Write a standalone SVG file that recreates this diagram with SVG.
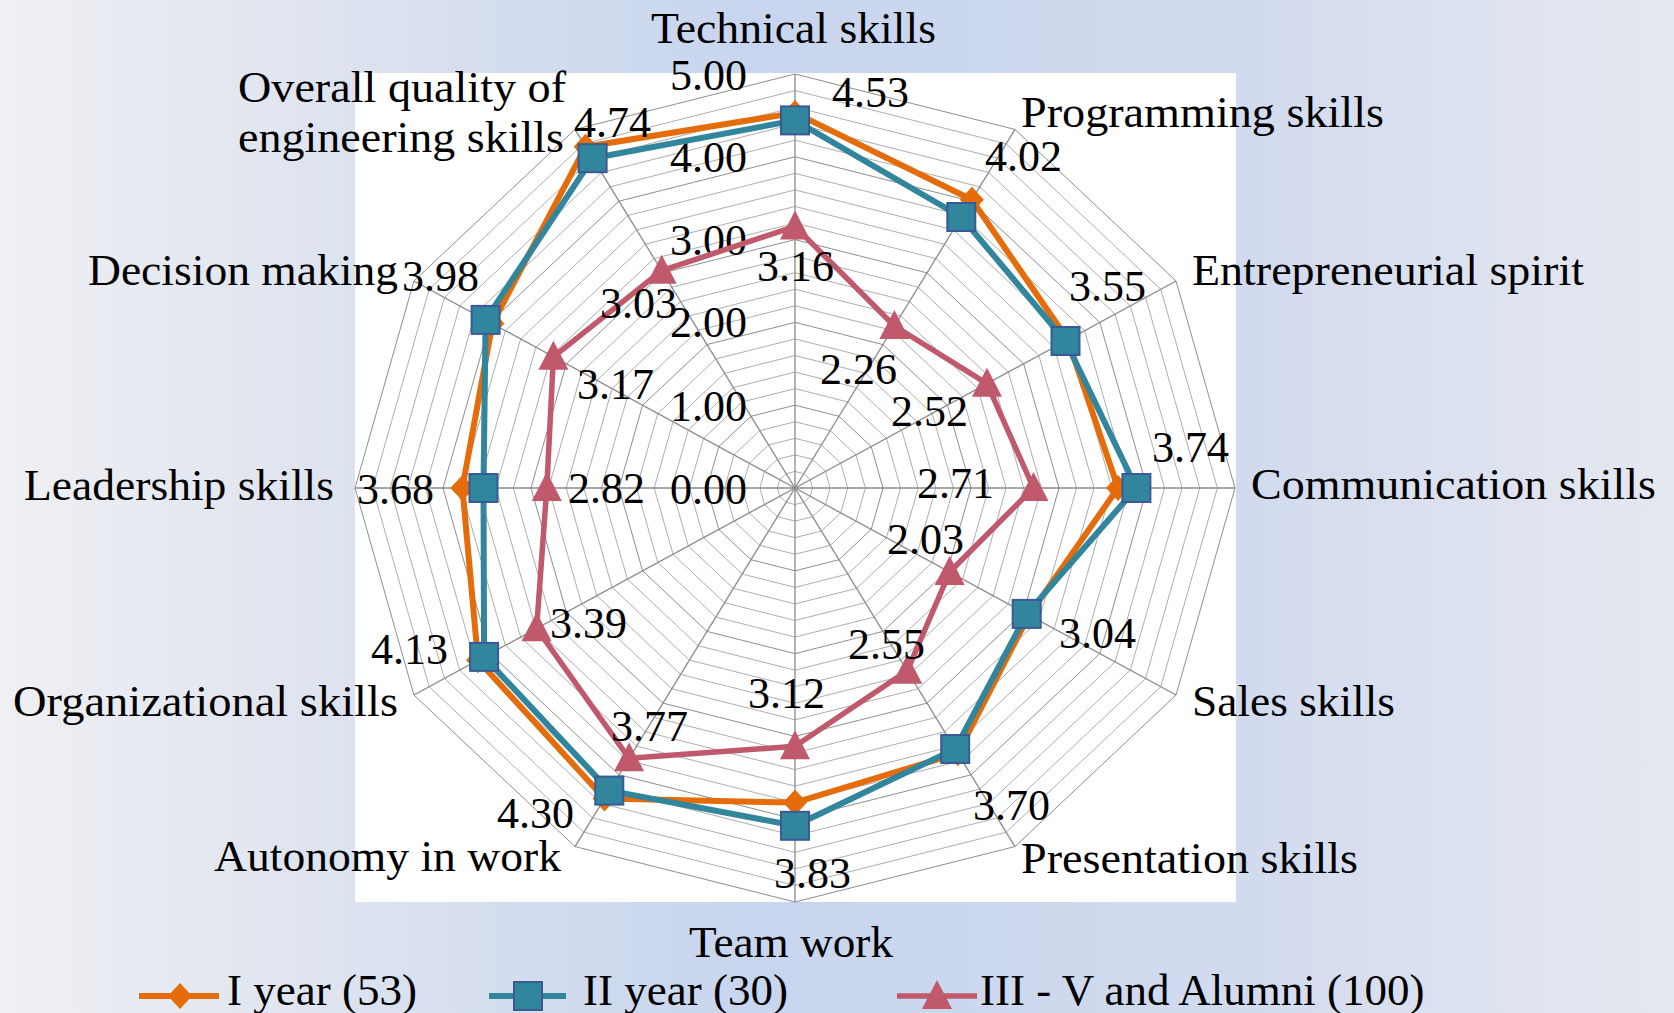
<svg xmlns="http://www.w3.org/2000/svg" xmlns:xlink="http://www.w3.org/1999/xlink" width="1674" height="1013" viewBox="0 0 1674 1013">
<defs>
<linearGradient id="bg" x1="0" y1="0" x2="1" y2="0">
<stop offset="0" stop-color="#eff0f3"/>
<stop offset="0.2" stop-color="#dde3ef"/>
<stop offset="0.45" stop-color="#c7d5ee"/>
<stop offset="0.75" stop-color="#d2dbee"/>
<stop offset="1" stop-color="#e5e8f0"/>
</linearGradient>
<polygon id="ring" points="0,-82.8 44,-71.71 76.21,-41.4 88,0 76.21,41.4 44,71.71 0,82.8 -44,71.71 -76.21,41.4 -88,0 -76.21,-41.4 -44,-71.71" fill="none" vector-effect="non-scaling-stroke"/>
<path id="dia" d="M0,-13 L12,0 L0,13 L-12,0 Z" fill="#e46c0a"/>
<rect id="sq" x="-14" y="-14" width="28" height="28" fill="#31859c" stroke="#3a5a96" stroke-width="2"/>
<path id="tri" d="M0,-16 L15,13 L-15,13 Z" fill="#c0596b"/>
</defs>
<style>
.t{font-family:'Liberation Serif','DejaVu Serif','Noto Serif',serif;fill:#000;}
.cat{font-size:45px;}
.num{font-size:44px;}
.minor{stroke:#adadad;stroke-width:1;}
.major{stroke:#8e8e8e;stroke-width:1;}
.axis{stroke:#8a8a8a;stroke-width:1.3;}
.s1{fill:none;stroke:#e46c0a;stroke-width:6;stroke-linejoin:round;}
.s2{fill:none;stroke:#31859c;stroke-width:6;stroke-linejoin:round;}
.s3{fill:none;stroke:#c0596b;stroke-width:5.5;stroke-linejoin:round;}
</style>
<rect x="0" y="0" width="1674" height="1013" fill="url(#bg)"/>
<rect x="355" y="73" width="881" height="829" fill="#ffffff"/>

<g id="grid">
<g class="minor">
<use xlink:href="#ring" transform="translate(795 488) scale(0.2)"/>
<use xlink:href="#ring" transform="translate(795 488) scale(0.4)"/>
<use xlink:href="#ring" transform="translate(795 488) scale(0.6)"/>
<use xlink:href="#ring" transform="translate(795 488) scale(0.8)"/>
<use xlink:href="#ring" transform="translate(795 488) scale(1.2)"/>
<use xlink:href="#ring" transform="translate(795 488) scale(1.4)"/>
<use xlink:href="#ring" transform="translate(795 488) scale(1.6)"/>
<use xlink:href="#ring" transform="translate(795 488) scale(1.8)"/>
<use xlink:href="#ring" transform="translate(795 488) scale(2.2)"/>
<use xlink:href="#ring" transform="translate(795 488) scale(2.4)"/>
<use xlink:href="#ring" transform="translate(795 488) scale(2.6)"/>
<use xlink:href="#ring" transform="translate(795 488) scale(2.8)"/>
<use xlink:href="#ring" transform="translate(795 488) scale(3.2)"/>
<use xlink:href="#ring" transform="translate(795 488) scale(3.4)"/>
<use xlink:href="#ring" transform="translate(795 488) scale(3.6)"/>
<use xlink:href="#ring" transform="translate(795 488) scale(3.8)"/>
<use xlink:href="#ring" transform="translate(795 488) scale(4.2)"/>
<use xlink:href="#ring" transform="translate(795 488) scale(4.4)"/>
<use xlink:href="#ring" transform="translate(795 488) scale(4.6)"/>
<use xlink:href="#ring" transform="translate(795 488) scale(4.8)"/>
</g>
<g class="major">
<use xlink:href="#ring" transform="translate(795 488) scale(1)"/>
<use xlink:href="#ring" transform="translate(795 488) scale(2)"/>
<use xlink:href="#ring" transform="translate(795 488) scale(3)"/>
<use xlink:href="#ring" transform="translate(795 488) scale(4)"/>
<use xlink:href="#ring" transform="translate(795 488) scale(5)"/>
</g>
<g class="axis">
<line x1="795" y1="488" x2="795" y2="74"/>
<line x1="795" y1="488" x2="1015" y2="129.45"/>
<line x1="795" y1="488" x2="1176.05" y2="281"/>
<line x1="795" y1="488" x2="1235" y2="488"/>
<line x1="795" y1="488" x2="1176.05" y2="695"/>
<line x1="795" y1="488" x2="1015" y2="846.55"/>
<line x1="795" y1="488" x2="795" y2="902"/>
<line x1="795" y1="488" x2="575" y2="846.55"/>
<line x1="795" y1="488" x2="413.95" y2="695"/>
<line x1="795" y1="488" x2="355" y2="488"/>
<line x1="795" y1="488" x2="413.95" y2="281"/>
<line x1="795" y1="488" x2="575" y2="129.45"/>
</g>
</g>

<g id="axis-values" class="t num" font-family="Liberation Serif, DejaVu Serif, serif" text-anchor="end">
<text x="747" y="90">5.00</text>
<text x="747" y="172">4.00</text>
<text x="747" y="255">3.00</text>
<text x="747" y="337">2.00</text>
<text x="747" y="421">1.00</text>
<text x="747" y="504">0.00</text>
</g>

<g id="series-I-year">
<polygon class="s1" points="795,112.9 971.9,199.8 1067.8,339.8 1118,488 1029,615.1 957.8,753.3 795,802.6 604.5,798.5 478,660.2 462.4,488 492.4,323.6 585.6,146.7"/>
<use xlink:href="#dia" x="795" y="112.9"/>
<use xlink:href="#dia" x="971.9" y="199.8"/>
<use xlink:href="#dia" x="1067.8" y="339.8"/>
<use xlink:href="#dia" x="1118" y="488"/>
<use xlink:href="#dia" x="1029" y="615.1"/>
<use xlink:href="#dia" x="957.8" y="753.3"/>
<use xlink:href="#dia" x="795" y="802.6"/>
<use xlink:href="#dia" x="604.5" y="798.5"/>
<use xlink:href="#dia" x="478" y="660.2"/>
<use xlink:href="#dia" x="462.4" y="488"/>
<use xlink:href="#dia" x="492.4" y="323.6"/>
<use xlink:href="#dia" x="585.6" y="146.7"/>
</g>

<g id="series-II-year">
<polygon class="s2" points="795,120.4 961.3,217 1065.5,341 1136.4,488 1026.7,613.9 955.2,749 795,825.8 609.3,790.6 484.1,656.9 483.5,488 485.6,319.9 592.6,158.2"/>
<use xlink:href="#sq" x="795" y="120.4"/>
<use xlink:href="#sq" x="961.3" y="217"/>
<use xlink:href="#sq" x="1065.5" y="341"/>
<use xlink:href="#sq" x="1136.4" y="488"/>
<use xlink:href="#sq" x="1026.7" y="613.9"/>
<use xlink:href="#sq" x="955.2" y="749"/>
<use xlink:href="#sq" x="795" y="825.8"/>
<use xlink:href="#sq" x="609.3" y="790.6"/>
<use xlink:href="#sq" x="484.1" y="656.9"/>
<use xlink:href="#sq" x="483.5" y="488"/>
<use xlink:href="#sq" x="485.6" y="319.9"/>
<use xlink:href="#sq" x="592.6" y="158.2"/>
</g>

<g id="series-III-V-alumni">
<polygon class="s3" points="795,226.4 894.4,326 987,383.7 1033.5,488 949.7,572 907.2,670.8 795,746.3 629.1,758.3 536.6,628.3 546.8,488 553.4,356.8 661.7,270.7"/>
<use xlink:href="#tri" x="795" y="226.4"/>
<use xlink:href="#tri" x="894.4" y="326"/>
<use xlink:href="#tri" x="987" y="383.7"/>
<use xlink:href="#tri" x="1033.5" y="488"/>
<use xlink:href="#tri" x="949.7" y="572"/>
<use xlink:href="#tri" x="907.2" y="670.8"/>
<use xlink:href="#tri" x="795" y="746.3"/>
<use xlink:href="#tri" x="629.1" y="758.3"/>
<use xlink:href="#tri" x="536.6" y="628.3"/>
<use xlink:href="#tri" x="546.8" y="488"/>
<use xlink:href="#tri" x="553.4" y="356.8"/>
<use xlink:href="#tri" x="661.7" y="270.7"/>
</g>

<g id="data-labels" class="t num" font-family="Liberation Serif, DejaVu Serif, serif">
<text x="832" y="107">4.53</text>
<text x="985" y="171">4.02</text>
<text x="1069" y="301">3.55</text>
<text x="1152" y="462">3.74</text>
<text x="1059" y="648">3.04</text>
<text x="973" y="820">3.70</text>
<text x="774" y="888">3.83</text>
<text x="497" y="828">4.30</text>
<text x="371" y="664">4.13</text>
<text x="357" y="504">3.68</text>
<text x="402" y="291">3.98</text>
<text x="574" y="137">4.74</text>
<text x="757" y="281">3.16</text>
<text x="820" y="384">2.26</text>
<text x="891" y="426">2.52</text>
<text x="917" y="498">2.71</text>
<text x="887" y="554">2.03</text>
<text x="848" y="659">2.55</text>
<text x="748" y="708">3.12</text>
<text x="611" y="741">3.77</text>
<text x="550" y="638">3.39</text>
<text x="568" y="503">2.82</text>
<text x="577" y="399">3.17</text>
<text x="600" y="318">3.03</text>
</g>

<g id="category-labels" class="t cat" font-family="Liberation Serif, DejaVu Serif, serif">
<text x="651" y="43" textLength="285" lengthAdjust="spacingAndGlyphs">Technical skills</text>
<text x="1021" y="127" textLength="363" lengthAdjust="spacingAndGlyphs">Programming skills</text>
<text x="1192" y="285" textLength="392" lengthAdjust="spacingAndGlyphs">Entrepreneurial spirit</text>
<text x="1251" y="499" textLength="405" lengthAdjust="spacingAndGlyphs">Communication skills</text>
<text x="1192" y="716" textLength="203" lengthAdjust="spacingAndGlyphs">Sales skills</text>
<text x="1021" y="873" textLength="337" lengthAdjust="spacingAndGlyphs">Presentation skills</text>
<text x="689" y="957" textLength="204" lengthAdjust="spacingAndGlyphs">Team work</text>
<text x="214" y="871" textLength="347" lengthAdjust="spacingAndGlyphs">Autonomy in work</text>
<text x="13" y="716" textLength="385" lengthAdjust="spacingAndGlyphs">Organizational skills</text>
<text x="24" y="500" textLength="310" lengthAdjust="spacingAndGlyphs">Leadership skills</text>
<text x="88" y="285" textLength="310" lengthAdjust="spacingAndGlyphs">Decision making</text>
<text x="238" y="102" textLength="328" lengthAdjust="spacingAndGlyphs">Overall quality of</text>
<text x="238" y="152" textLength="326" lengthAdjust="spacingAndGlyphs">engineering skills</text>
</g>

<g id="legend">
<line x1="139" y1="996" x2="219" y2="996" class="s1"/>
<use xlink:href="#dia" x="180" y="996"/>
<text class="t cat" font-family="Liberation Serif, DejaVu Serif, serif" x="227" y="1005">I year (53)</text>
<line x1="489" y1="996" x2="566" y2="996" class="s2"/>
<use xlink:href="#sq" x="528" y="996"/>
<text class="t cat" font-family="Liberation Serif, DejaVu Serif, serif" x="583" y="1005">II year (30)</text>
<line x1="897" y1="996" x2="977" y2="996" class="s3"/>
<use xlink:href="#tri" x="937" y="996"/>
<text class="t cat" font-family="Liberation Serif, DejaVu Serif, serif" x="980" y="1005">III - V and Alumni (100)</text>
</g>
</svg>
